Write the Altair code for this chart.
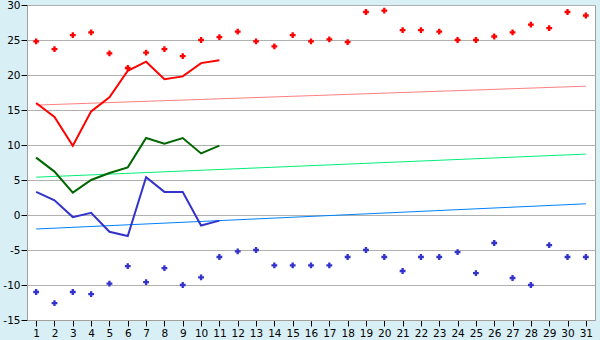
import altair as alt
import pandas as pd

days = list(range(1, 32))
max_pts = [24.8, 23.7, 25.7, 26.1, 23.1, 21.0, 23.2, 23.7, 22.7, 25.0, 25.4,
           26.2, 24.8, 24.1, 25.7, 24.8, 25.1, 24.7, 29.0, 29.2, 26.4, 26.4,
           26.2, 25.0, 25.0, 25.5, 26.1, 27.2, 26.7, 29.0, 28.5]
min_pts = [-11.0, -12.6, -11.0, -11.3, -9.8, -7.3, -9.6, -7.6, -10.0, -8.9, -6.0,
           -5.2, -5.0, -7.2, -7.2, -7.2, -7.2, -6.0, -5.0, -6.0, -8.0, -6.0,
           -6.0, -5.3, -8.3, -4.0, -9.0, -10.0, -4.3, -6.0, -6.0]
line_days = list(range(1, 12))
max_line = [16.0, 14.0, 9.9, 14.8, 16.8, 20.6, 21.9, 19.4, 19.8, 21.7, 22.1]
mean_line = [8.2, 6.2, 3.2, 5.0, 6.0, 6.8, 11.0, 10.2, 11.0, 8.8, 9.9]
min_line = [3.3, 2.1, -0.3, 0.3, -2.4, -3.0, 5.4, 3.3, 3.3, -1.5, -0.8]
trend_days = [1, 31]
max_trend = [15.7, 18.4]
mean_trend = [5.4, 8.7]
min_trend = [-2.0, 1.6]

pts = pd.DataFrame({"day": days, "max": max_pts, "min": min_pts})
lines = pd.DataFrame({"day": line_days, "max": max_line, "mean": mean_line, "min": min_line})
trends = pd.DataFrame({"day": trend_days, "max": max_trend, "mean": mean_trend, "min": min_trend})

xscale = alt.Scale(domain=[0.5, 31.5], nice=False, zero=False)
yscale = alt.Scale(domain=[-15, 30], nice=False, zero=False)
xaxis = alt.Axis(values=days, title=None, grid=False, tickSize=6, labelFontSize=10.5,
                 labelFont="DejaVu Sans", labelColor="#000000", domainColor="#a0a0a0",
                 tickColor="#000000", labelPadding=2, labelFlush=False)
yaxis = alt.Axis(values=list(range(-15, 31, 5)), title=None, grid=True, gridColor="#b0b0b0",
                 tickSize=6, tickColor="#000000", labelFontSize=10.5, labelFont="DejaVu Sans",
                 labelColor="#000000", domainColor="#a0a0a0", labelPadding=1,
                 labelExpr="datum.value < 0 ? '-' + abs(datum.value) : '' + datum.value")

def enc_x():
    return alt.X("day:Q", scale=xscale, axis=xaxis)

def line_layer(df, field, color, width):
    return alt.Chart(df).mark_line(color=color, strokeWidth=width).encode(
        x=enc_x(), y=alt.Y(f"{field}:Q", scale=yscale, axis=yaxis))

def pt_layer(field, color):
    return alt.Chart(pts).mark_point(shape="cross", filled=True, color=color, size=34, opacity=1).encode(
        x=enc_x(), y=alt.Y(f"{field}:Q", scale=yscale, axis=yaxis))

chart = alt.layer(
    line_layer(trends, "max", "#ff8080", 1),
    line_layer(trends, "mean", "#00ee77", 1),
    line_layer(trends, "min", "#0080ff", 1),
    line_layer(lines, "max", "#ff0000", 2),
    line_layer(lines, "mean", "#006600", 2),
    line_layer(lines, "min", "#3333cc", 2),
    pt_layer("max", "#ff0000"),
    pt_layer("min", "#3333cc"),
).properties(
    width=568, height=315,
    background="#d9eff6",
    autosize=alt.AutoSizeParams(type="none"),
    padding={"left": 27, "top": 5, "right": 5, "bottom": 20},
).configure_view(stroke="#a0a0a0", fill="#ffffff")

chart.save("out.html", embed_options={"renderer": "svg", "actions": False})
